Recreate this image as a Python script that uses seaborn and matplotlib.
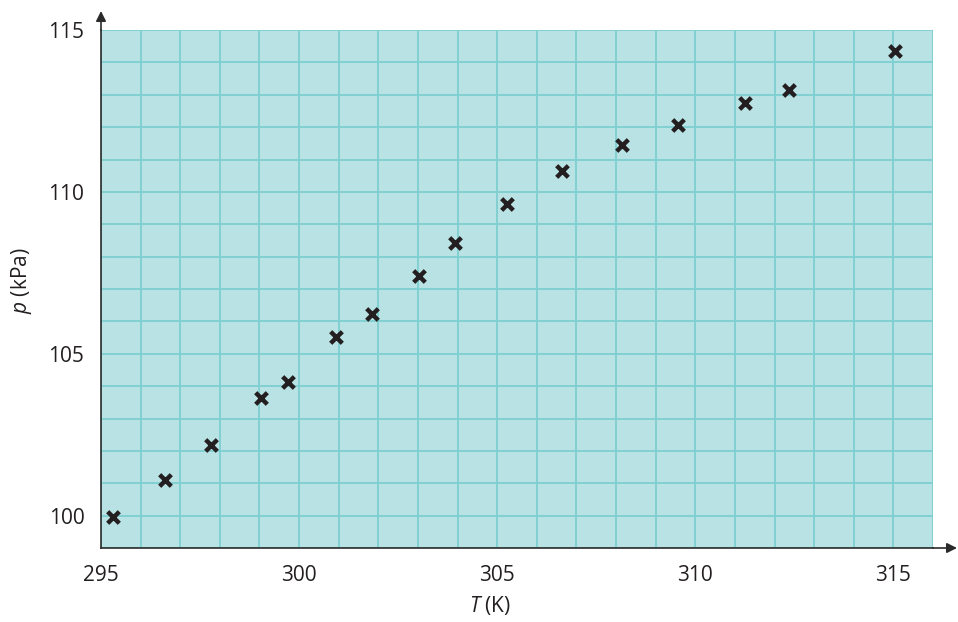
import matplotlib
matplotlib.use("Agg")
import matplotlib.pyplot as plt
import seaborn as sns
import pandas as pd
from matplotlib.ticker import MultipleLocator

temperature_K = [295.30, 296.61, 297.78, 299.04, 299.72, 300.93, 301.84, 303.02,
                 303.93, 305.24, 306.63, 308.15, 309.56, 311.25, 312.36, 315.05]
pressure_kPa = [99.95, 101.11, 102.19, 103.64, 104.14, 105.52, 106.23, 107.41,
                108.43, 109.63, 110.65, 111.45, 112.07, 112.76, 113.15, 114.36]
x_ticks = [295, 300, 305, 310, 315]
y_ticks = [100, 105, 110, 115]

df = pd.DataFrame({"T": temperature_K, "p": pressure_kPa})

sns.set_theme(style="white")
plt.rcParams["font.family"] = ["Open Sans", "DejaVu Sans"]
plt.rcParams["mathtext.fontset"] = "custom"
plt.rcParams["mathtext.it"] = "Open Sans:italic"
plt.rcParams["mathtext.rm"] = "Open Sans"

bg = "#b9e2e4"
grid_c = "#7ecfd1"
axis_c = "#2b2b2b"
text_c = "#231f20"

fig = plt.figure(figsize=(9.58, 6.22), dpi=100)
ax = fig.add_axes([101/958, 1-548/622, (933-101)/958, (548-30)/622])
ax.set_facecolor(bg)

sns.scatterplot(data=df, x="T", y="p", ax=ax, marker="x", s=70, color=text_c,
                linewidth=3.2, zorder=5, legend=False)

ax.set_xlim(295, 316)
ax.set_ylim(99, 115)
ax.xaxis.set_minor_locator(MultipleLocator(1))
ax.yaxis.set_minor_locator(MultipleLocator(1))
ax.set_xticks(x_ticks)
ax.set_yticks(y_ticks)
ax.set_xticklabels([str(v) for v in x_ticks])
ax.set_yticklabels([str(v) for v in y_ticks])

ax.grid(True, which="both", color=grid_c, linewidth=1.3)
ax.set_axisbelow(True)

for s in ["top", "right"]:
    ax.spines[s].set_visible(False)
for s in ["left", "bottom"]:
    ax.spines[s].set_color(axis_c)
    ax.spines[s].set_linewidth(1.2)

ax.tick_params(which="major", direction="out", length=7, width=1.1, color=axis_c,
               labelsize=15, labelcolor=text_c, pad=5)
ax.tick_params(which="minor", direction="out", length=4, width=1.1, color=axis_c)

ax.set_xlabel("$\\it{T}$ (K)", fontsize=15, color=text_c)
ax.set_ylabel("$\\it{p}$ (kPa)", fontsize=15, color=text_c)
ax.xaxis.set_label_coords((490-101)/(933-101), -(594-548)/(548-30))
ax.yaxis.set_label_coords(-(101-34)/(933-101), (548-281)/(548-30))

# axis arrows
ax.annotate("", xy=(1 + (957-933)/(933-101), 0), xytext=(1, 0),
            xycoords="axes fraction",
            arrowprops=dict(arrowstyle="-|>", color=axis_c, lw=1.2, mutation_scale=15,
                            shrinkA=0, shrinkB=0), annotation_clip=False)
ax.annotate("", xy=(0, 1 + (30-11)/(548-30)), xytext=(0, 1),
            xycoords="axes fraction",
            arrowprops=dict(arrowstyle="-|>", color=axis_c, lw=1.2, mutation_scale=15,
                            shrinkA=0, shrinkB=0), annotation_clip=False)

fig.savefig("out.png", dpi=100)
